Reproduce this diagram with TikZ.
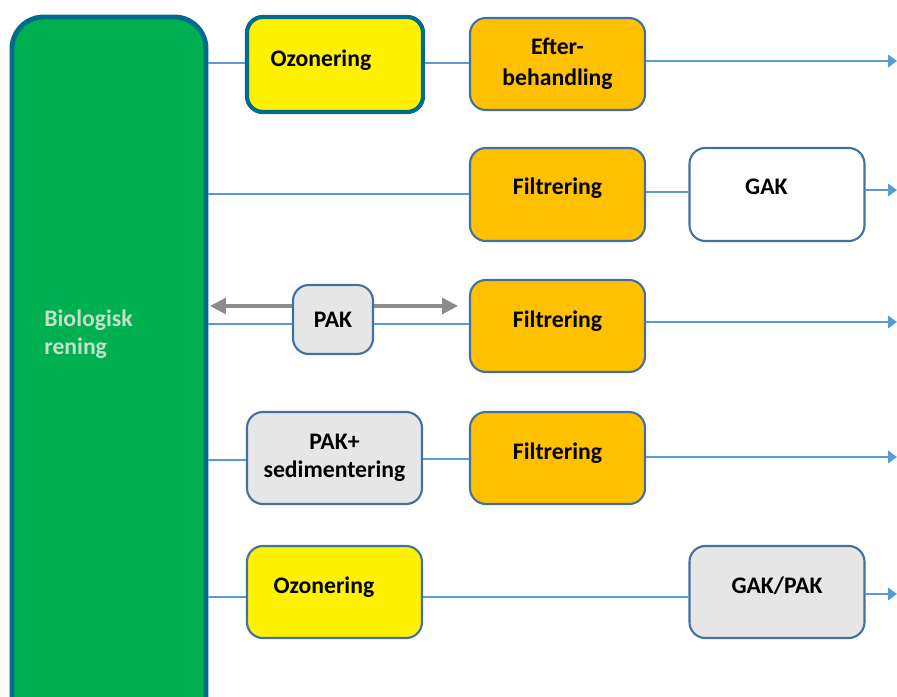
\documentclass[tikz,border=0pt]{standalone}
\usepackage{fontspec}
\setmainfont{Carlito}
\usetikzlibrary{arrows.meta}

\definecolor{biogreen}{RGB}{0,176,80}
\definecolor{bioedge}{RGB}{0,108,140}
\definecolor{biotext}{RGB}{196,224,204}
\definecolor{boxedge}{RGB}{65,113,160}
\definecolor{flowblue}{RGB}{91,155,213}
\definecolor{orangefill}{RGB}{255,192,0}
\definecolor{greyfill}{RGB}{230,230,230}
\definecolor{arrowgrey}{RGB}{140,140,140}

\tikzset{
    unit/.style={draw=boxedge, line width=1.2pt, rounded corners=9pt,
        minimum width=175*0.02cm, minimum height=92*0.02cm,
        align=center, font=\fontsize{13.5}{17.5}\selectfont\bfseries},
    lift/.style={text height=9pt, text depth=#1},
    lift/.default=8.5pt,
    ozon/.style={unit, fill=yellow},
    filt/.style={unit, fill=orangefill},
    kol/.style={unit, fill=greyfill},
    flow/.style={draw=flowblue, line width=1.2pt},
    flowout/.style={flow, -{Triangle[length=5pt,width=7pt]}},
    dose/.style={draw=arrowgrey, line width=1.8pt, -{Triangle[length=9pt,width=9pt]}}
}

\begin{document}
\begin{tikzpicture}[x=0.02cm, y=-0.02cm]
    \useasboundingbox (0,0) rectangle (897,697);

    % Biologisk rening
    \node[draw=bioedge, fill=biogreen, line width=2.8pt, rounded corners=18pt,
        minimum width=194*0.02cm, minimum height=713*0.02cm] (bio) at (109,373.5) {};
    \node[anchor=north west, align=left, text=biotext, inner sep=0pt,
        font=\fontsize{13.5}{16.5}\selectfont\bfseries] (biotxt) at (44,309) {Biologisk\\rening};

    % Linje 1
    \node[ozon, lift=7pt, draw=bioedge, line width=2.4pt, minimum width=176*0.02cm, minimum height=95*0.02cm] (oz1) at (335,64.5) {\hspace*{-16pt}Ozonering};
    \node[filt] (eft) at (557.5,64) {Efter-\\behandling};
    \coordinate (out1) at (897,61);

    % Linje 2
    \node[filt, lift, minimum height=93*0.02cm] (filt2) at (557.5,194.5) {Filtrering};
    \node[unit, lift, fill=white, minimum height=93*0.02cm] (gak) at (777,194.5) {\hspace*{-12pt}GAK};
    \coordinate (out2) at (897,190);

    % Linje 3
    \node[kol, minimum width=80*0.02cm, minimum height=69*0.02cm] (pak) at (333,319.5) {\raisebox{-2pt}{PAK}};
    \node[filt, lift=7.5pt] (filt3) at (557.5,326) {Filtrering};
    \coordinate (out3) at (897,322);
    \coordinate (dosv) at (210,306);
    \coordinate (dosh) at (458,306);

    % Linje 4
    \node[kol, font=\fontsize{13.5}{16}\selectfont\bfseries] (paks) at (334.5,458) {\raisebox{2pt}{PAK+}\\\raisebox{2pt}{sedimentering}};
    \node[filt, lift=7.5pt] (filt4) at (557.5,458) {Filtrering};
    \coordinate (out4) at (897,457);

    % Linje 5
    \node[ozon, lift=7.5pt] (oz5) at (334.5,592) {\hspace*{-12pt}Ozonering};
    \node[kol, lift=7.5pt] (gakpak) at (777,592) {GAK/PAK};
    \coordinate (out5) at (897,594);

    % Flöden
    \draw[flow] (bio.east |- 0,63) -- (oz1.west |- 0,63);
    \draw[flow] (oz1.east |- 0,63) -- (eft.west |- 0,63);
    \draw[flowout] (eft.east |- out1) -- (out1);

    \draw[flow] (bio.east |- 0,194) -- (filt2.west |- 0,194);
    \draw[flow] (filt2.east |- 0,192) -- (gak.west |- 0,192);
    \draw[flowout] (gak.east |- out2) -- (out2);

    \draw[flow] (bio.east |- 0,324) -- (pak.west |- 0,324);
    \draw[flow] (pak.east |- 0,324) -- (filt3.west |- 0,324);
    \draw[flowout] (filt3.east |- out3) -- (out3);
    \draw[dose] (pak.west |- dosv) -- (dosv);
    \draw[dose] (pak.east |- dosh) -- (dosh);

    \draw[flow] (bio.east |- 0,460) -- (paks.west |- 0,460);
    \draw[flow] (paks.east |- 0,459) -- (filt4.west |- 0,459);
    \draw[flowout] (filt4.east |- out4) -- (out4);

    \draw[flow] (bio.east |- 0,597) -- (oz5.west |- 0,597);
    \draw[flow] (oz5.east |- 0,597) -- (gakpak.west |- 0,597);
    \draw[flowout] (gakpak.east |- out5) -- (out5);
\end{tikzpicture}
\end{document}
